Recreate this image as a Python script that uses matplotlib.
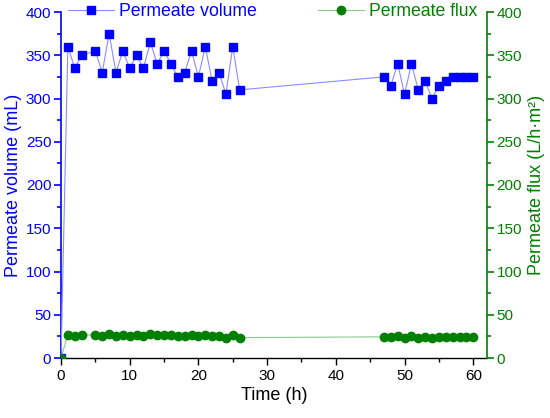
import matplotlib
matplotlib.use("Agg")
import matplotlib.pyplot as plt
from matplotlib.ticker import MultipleLocator

plt.rcParams['font.family'] = ['Liberation Sans', 'DejaVu Sans']

time_h = [0, 1, 2, 3, 5, 6, 7, 8, 9, 10, 11, 12, 13, 14, 15, 16, 17, 18, 19, 20,
          21, 22, 23, 24, 25, 26,
          47, 48, 49, 50, 51, 52, 53, 54, 55, 56, 57, 58, 59, 60]
volume_ml = [0, 360, 335, 350, 355, 330, 375, 330, 355, 335, 350, 335, 365, 340, 355,
             340, 325, 330, 355, 325, 360, 320, 330, 305, 360, 310,
             325, 315, 340, 305, 340, 310, 320, 300, 315, 320, 325, 325, 325, 325]
flux_lmh = [0, 27.0, 25.9, 26.5, 26.7, 25.5, 28.1, 25.5, 26.7, 25.9, 26.5, 25.9, 27.3,
            26.2, 26.7, 26.2, 25.3, 25.5, 26.7, 25.3, 27.0, 25.0, 25.5, 23.2, 27.0, 23.5,
            24.5, 23.8, 25.5, 23.2, 25.5, 23.5, 24.0, 22.8, 23.8, 24.0, 24.3, 24.3, 24.3, 24.3]

BLUE = '#0000ff'
GREEN = '#008000'

fig = plt.figure(figsize=(5.5, 4.18), dpi=100)
ax = fig.add_axes([61/550, 1-358/418, 426/550, 346/418])
ax2 = ax.twinx()

l1, = ax.plot(time_h, volume_ml, color='#8c8cff', lw=0.8, marker='s', ms=5.5,
              mfc=BLUE, mec=BLUE, zorder=3, label='Permeate volume')
l2, = ax2.plot(time_h, flux_lmh, color='#88cc88', lw=0.8, marker='o', ms=6,
               mfc=GREEN, mec=GREEN, zorder=3, label='Permeate flux')

ax.set_xlim(0, 62)
ax.set_ylim(0, 400)
ax2.set_ylim(0, 400)

for a in (ax, ax2):
    a.spines['top'].set_visible(False)
ax.spines['right'].set_visible(False)
ax.spines['left'].set_color(BLUE)
ax.spines['left'].set_linewidth(1.2)
ax2.spines['right'].set_color(GREEN)
ax2.spines['right'].set_linewidth(1.2)
ax2.spines['left'].set_visible(False)
ax2.spines['bottom'].set_visible(False)
ax.spines['bottom'].set_linewidth(1.0)

ax.xaxis.set_major_locator(MultipleLocator(10))
ax.xaxis.set_minor_locator(MultipleLocator(5))
ax.yaxis.set_major_locator(MultipleLocator(50))
ax.yaxis.set_minor_locator(MultipleLocator(25))
ax2.yaxis.set_major_locator(MultipleLocator(50))
ax2.yaxis.set_minor_locator(MultipleLocator(25))

ax.tick_params(axis='x', which='major', direction='out', length=5, width=1, labelsize=11, pad=3)
ax.tick_params(axis='x', which='minor', direction='out', length=3, width=1)
ax.tick_params(axis='y', which='major', direction='out', length=5, width=1.2,
               colors=BLUE, labelsize=11, pad=2)
ax.tick_params(axis='y', which='minor', direction='out', length=3, width=1.2, colors=BLUE)
ax2.tick_params(axis='y', which='major', direction='out', length=5, width=1.2,
                colors=GREEN, labelsize=11, pad=2)
ax2.tick_params(axis='y', which='minor', direction='out', length=3, width=1.2, colors=GREEN)

ax.set_xlabel('Time (h)', fontsize=13, labelpad=3)
ax.set_ylabel('Permeate volume (mL)', fontsize=13, color=BLUE, labelpad=3)
ax2.set_ylabel('Permeate flux (L/h·m²)', fontsize=13, color=GREEN, labelpad=4)

leg1 = ax.legend(handles=[l1], loc='center left', bbox_to_anchor=(0.016, 1.0),
                 frameon=False, fontsize=12.7, handlelength=2.6, handletextpad=0.3,
                 borderpad=0, borderaxespad=0)
for t in leg1.get_texts():
    t.set_color(BLUE)
leg2 = ax2.legend(handles=[l2], loc='center right', bbox_to_anchor=(0.977, 1.0),
                  frameon=False, fontsize=12.7, handlelength=2.6, handletextpad=0.3,
                  borderpad=0, borderaxespad=0)
for t in leg2.get_texts():
    t.set_color(GREEN)

fig.savefig('out.png', dpi=100)
